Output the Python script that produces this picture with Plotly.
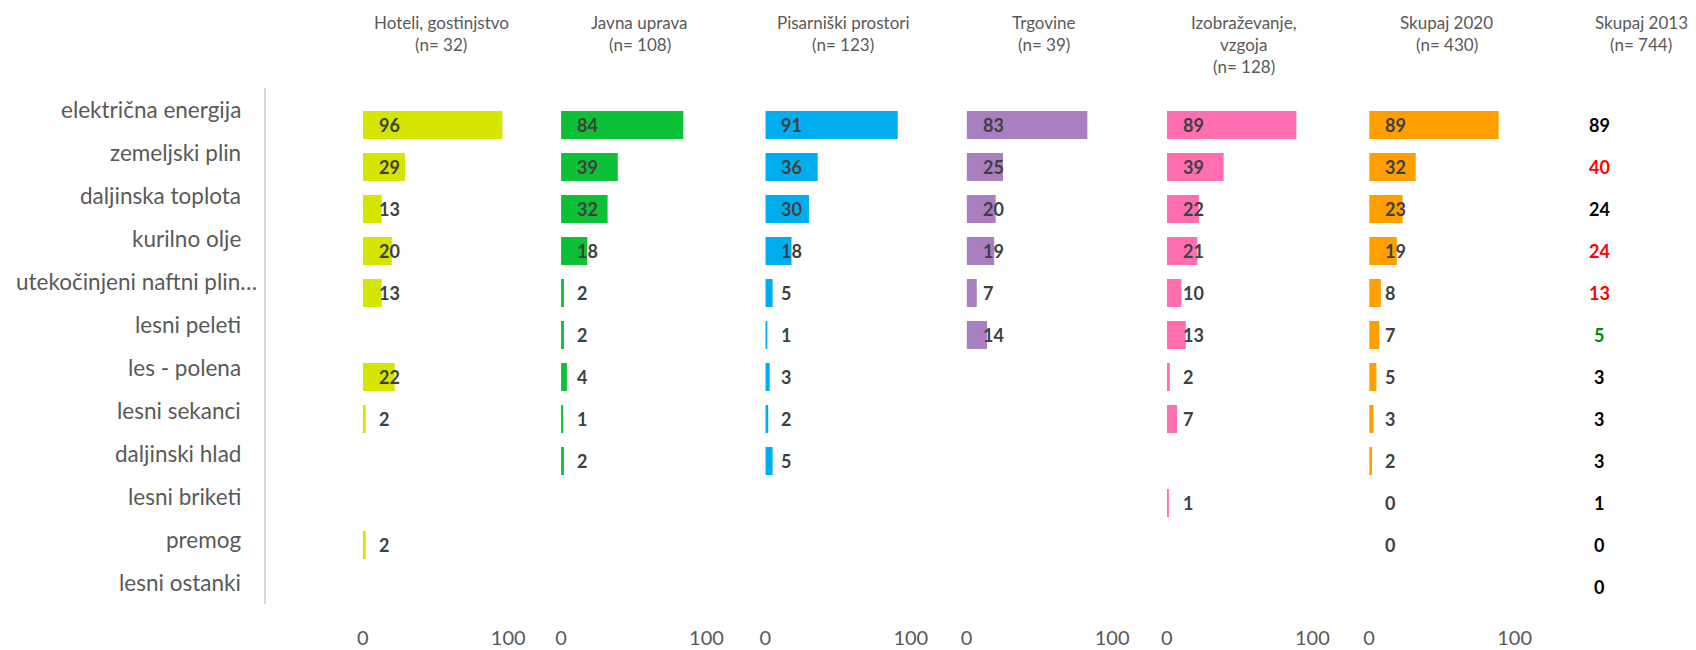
import plotly.graph_objects as go

# ---------------- data ----------------
categories = [
    "električna energija", "zemeljski plin", "daljinska toplota", "kurilno olje",
    "utekočinjeni naftni plin…", "lesni peleti", "les - polena", "lesni sekanci",
    "daljinski hlad", "lesni briketi", "premog", "lesni ostanki",
]
sector_names = ["Hoteli, gostinjstvo", "Javna uprava", "Pisarniški prostori",
                "Trgovine", "Izobraževanje,<br>vzgoja", "Skupaj 2020"]
sector_n = [32, 108, 123, 39, 128, 430]

hoteli = [96, 29, 13, 20, 13, None, 22, 2, None, None, 2, None]
javna_uprava = [84, 39, 32, 18, 2, 2, 4, 1, 2, None, None, None]
pisarniski = [91, 36, 30, 18, 5, 1, 3, 2, 5, None, None, None]
trgovine = [83, 25, 20, 19, 7, 14, None, None, None, None, None, None]
izobrazevanje = [89, 39, 22, 21, 10, 13, 2, 7, None, 1, None, None]
skupaj_2020 = [89, 32, 23, 19, 8, 7, 5, 3, 2, 0, 0, None]

skupaj_2013_name = "Skupaj 2013"
skupaj_2013_n = 744
skupaj_2013 = [89, 40, 24, 24, 13, 5, 3, 3, 3, 1, 0, 0]
skupaj_2013_colors = ["#000000", "#FF0000", "#000000", "#FF0000", "#FF0000", "#008A00",
                      "#000000", "#000000", "#000000", "#000000", "#000000", "#000000"]

series = [hoteli, javna_uprava, pisarniski, trgovine, izobrazevanje, skupaj_2020]
colors = ["#D4E600", "#0DC036", "#00AEEF", "#A97FC0", "#FF6FAF", "#FF9E00"]

# ---------------- layout geometry ----------------
OFF = 8                      # page body margin
W, H = 1696 - OFF, 650 - OFF
FONT = "Lato"


def fx(p):
    return (p - OFF) / W


def fy(p):
    return 1 - (p - OFF) / H


zeros_px = [358, 557, 762, 964, 1165, 1368]
px_per_unit = 1.46
x_max = 130
y_dom = [fy(608), fy(104)]
label_dom = [fy(604), fy(88)]
header_x_px = [437, 636, 840, 1042, 1242, 1446, 1641]

fig = go.Figure()
annotations = []
layout = dict(
    width=W, height=H, margin=dict(l=0, r=0, t=0, b=0),
    paper_bgcolor="white", plot_bgcolor="rgba(0,0,0,0)",
    showlegend=False,
)

for i, (vals, col) in enumerate(zip(series, colors)):
    k = "" if i == 0 else str(i + 1)
    fig.add_trace(go.Bar(
        x=vals, y=categories, orientation="h", marker=dict(color=col, line=dict(width=0)),
        xaxis="x" + k, yaxis="y" + k, hoverinfo="skip", width=0.667,
    ))
    x0 = fx(zeros_px[i])
    x1 = fx(zeros_px[i] + x_max * px_per_unit)
    layout["xaxis" + k] = dict(
        domain=[x0, min(x1, 1)], range=[0, x_max], tickvals=[0, 100],
        showgrid=False, zeroline=False, showline=False, ticks="",
        tickfont=dict(family=FONT, size=20, color="#595959"),
        ticklabelstandoff=16, anchor="y" + k, fixedrange=True,
    )
    layout["yaxis" + k] = dict(
        domain=y_dom, type="category", categoryorder="array", categoryarray=categories,
        range=[len(categories) - 0.5, -0.5], showticklabels=False, showgrid=False,
        zeroline=False, showline=False, ticks="", anchor="x" + k, fixedrange=True,
    )
    for cat, v in zip(categories, vals):
        if v is None:
            continue
        annotations.append(dict(
            x=0, y=cat, xref="x" + k, yref="y" + k, text=f"<b>{v}</b>",
            xanchor="left", yanchor="middle", xshift=14, showarrow=False,
            font=dict(family=FONT, size=18, color="#404040"),
        ))

# label axis (with light grey vertical line)
fig.add_trace(go.Scatter(
    x=[0] * len(categories), y=categories, xaxis="x7", yaxis="y7", mode="markers",
    marker=dict(opacity=0), hoverinfo="skip",
))
layout["xaxis7"] = dict(domain=[fx(261), fx(262)], visible=False, anchor="y7", fixedrange=True)
layout["yaxis7"] = dict(
    domain=label_dom, type="category", categoryorder="array", categoryarray=categories,
    range=[len(categories) - 0.5, -0.5], showticklabels=False, showgrid=False,
    zeroline=False, showline=True, linecolor="#D9D9D9", linewidth=1.5, ticks="",
    anchor="x7", fixedrange=True,
)
for cat in categories:
    right_px = 254 if cat.endswith("…") else 238
    annotations.append(dict(
        x=fx(right_px), y=cat, xref="paper", yref="y7", text=cat,
        xanchor="right", yanchor="middle", showarrow=False,
        font=dict(family=FONT, size=22.5, color="#595959"),
    ))

# Skupaj 2013 column (text only)
for cat, v, c in zip(categories, skupaj_2013, skupaj_2013_colors):
    annotations.append(dict(
        x=fx(1599), y=cat, xref="paper", yref="y6", text=f"<b>{v}</b>",
        xanchor="center", yanchor="middle", showarrow=False,
        font=dict(family=FONT, size=18, color=c),
    ))

# headers
header_texts = [f"{nm}<br>(n= {n})" for nm, n in zip(sector_names, sector_n)]
header_texts.append(f"{skupaj_2013_name}<br>(n= {skupaj_2013_n})")
line_y_px = [22, 44.5, 67]
for hx, txt in zip(header_x_px, header_texts):
    for j, line in enumerate(txt.split("<br>")):
        annotations.append(dict(
            x=fx(hx), y=fy(line_y_px[j]), xref="paper", yref="paper", text=line,
            xanchor="center", yanchor="middle", showarrow=False,
            font=dict(family=FONT, size=17, color="#595959"),
        ))

layout["annotations"] = annotations
fig.update_layout(**layout)
fig.write_html("out.html")
